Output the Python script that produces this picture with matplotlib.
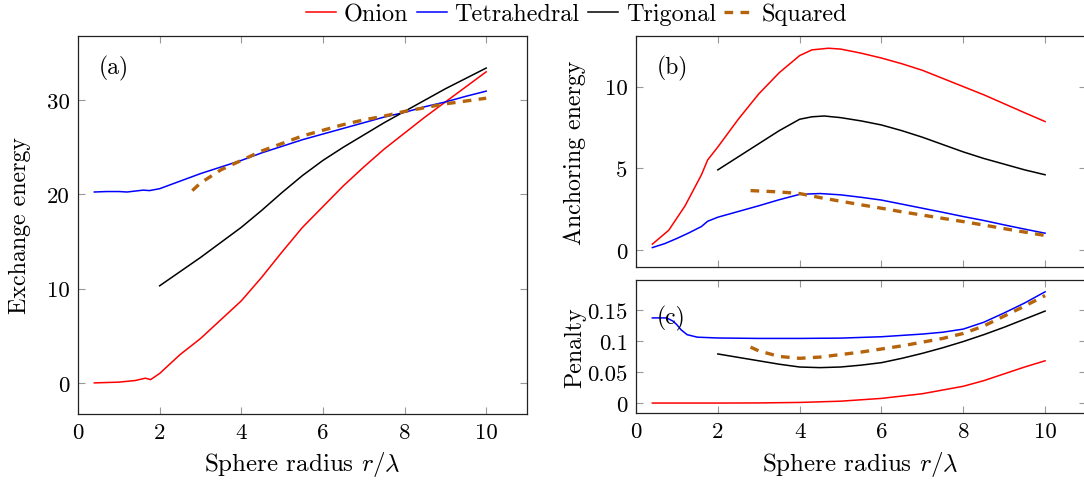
import matplotlib
matplotlib.use("Agg")
import matplotlib.pyplot as plt
from matplotlib.ticker import FuncFormatter

plt.rcParams['font.family'] = ['cmr10', 'DejaVu Serif']
plt.rcParams['mathtext.fontset'] = 'cm'
plt.rcParams['axes.formatter.use_mathtext'] = True
plt.rcParams['font.size'] = 16.5

# ---------------- Data ----------------
# Panel (a): Exchange energy
xa_onion = [0.4, 1.0, 1.4, 1.65, 1.78, 2.0, 2.5, 3.0, 3.5, 4.0, 4.5, 5.0, 5.5, 6.0, 6.5, 7.0, 7.5, 8.0, 8.5, 9.0, 9.5, 10.0]
ya_onion = [0.0, 0.08, 0.25, 0.5, 0.35, 1.0, 3.0, 4.7, 6.7, 8.7, 11.2, 13.9, 16.5, 18.7, 20.9, 22.9, 24.8, 26.5, 28.2, 29.8, 31.4, 33.0]
xa_tetra = [0.4, 0.7, 1.0, 1.2, 1.4, 1.6, 1.75, 2.0, 2.5, 3.0, 3.5, 4.0, 4.5, 5.0, 5.5, 6.0, 6.5, 7.0, 7.5, 8.0, 8.5, 9.0, 9.5, 10.0]
ya_tetra = [20.25, 20.3, 20.3, 20.25, 20.35, 20.45, 20.4, 20.6, 21.4, 22.2, 22.9, 23.6, 24.4, 25.1, 25.8, 26.4, 27.0, 27.6, 28.2, 28.7, 29.3, 29.8, 30.4, 30.95]
xa_trig = [2.0, 2.5, 3.0, 3.5, 4.0, 4.5, 5.0, 5.5, 6.0, 6.5, 7.0, 7.5, 8.0, 8.5, 9.0, 9.5, 10.0]
ya_trig = [10.3, 11.8, 13.3, 14.9, 16.5, 18.3, 20.2, 22.0, 23.6, 25.0, 26.3, 27.6, 28.8, 30.0, 31.2, 32.3, 33.4]
xa_square = [2.8, 3.0, 3.5, 4.0, 4.5, 5.0, 5.5, 6.0, 6.5, 7.0, 7.5, 8.0, 8.5, 9.0, 9.5, 10.0]
ya_square = [20.4, 21.2, 22.6, 23.6, 24.6, 25.4, 26.2, 26.8, 27.4, 27.9, 28.3, 28.8, 29.2, 29.6, 29.9, 30.2]

# Panel (b): Anchoring energy
xb_onion = [0.4, 0.8, 1.2, 1.6, 1.75, 2.0, 2.5, 3.0, 3.5, 4.0, 4.3, 4.7, 5.0, 5.5, 6.0, 6.5, 7.0, 7.5, 8.0, 8.5, 9.0, 9.5, 10.0]
yb_onion = [0.35, 1.2, 2.7, 4.6, 5.5, 6.3, 8.0, 9.55, 10.85, 11.9, 12.25, 12.35, 12.3, 12.05, 11.75, 11.4, 11.0, 10.5, 10.0, 9.5, 8.95, 8.4, 7.86]
xb_tetra = [0.4, 0.7, 1.0, 1.3, 1.6, 1.75, 2.0, 2.5, 3.0, 3.5, 4.0, 4.5, 5.0, 5.5, 6.0, 6.5, 7.0, 7.5, 8.0, 8.5, 9.0, 9.5, 10.0]
yb_tetra = [0.14, 0.38, 0.7, 1.05, 1.43, 1.75, 2.0, 2.35, 2.7, 3.07, 3.4, 3.45, 3.37, 3.22, 3.05, 2.8, 2.55, 2.3, 2.04, 1.8, 1.53, 1.27, 1.02]
xb_trig = [2.0, 2.5, 3.0, 3.5, 4.0, 4.3, 4.6, 5.0, 5.5, 6.0, 6.5, 7.0, 7.5, 8.0, 8.5, 9.0, 9.5, 10.0]
yb_trig = [4.9, 5.7, 6.5, 7.3, 8.0, 8.15, 8.2, 8.1, 7.9, 7.65, 7.3, 6.9, 6.45, 6.0, 5.6, 5.25, 4.9, 4.6]
xb_square = [2.8, 3.5, 4.0, 4.5, 5.0, 5.5, 6.0, 6.5, 7.0, 7.5, 8.0, 8.5, 9.0, 9.5, 10.0]
yb_square = [3.63, 3.55, 3.45, 3.2, 2.98, 2.76, 2.55, 2.33, 2.13, 1.93, 1.73, 1.52, 1.3, 1.09, 0.88]

# Panel (c): Penalty
xc_onion = [0.4, 2.0, 3.0, 4.0, 5.0, 6.0, 7.0, 8.0, 8.5, 9.0, 9.5, 10.0]
yc_onion = [0.0, 0.0, 0.0002, 0.001, 0.003, 0.0075, 0.015, 0.027, 0.036, 0.047, 0.058, 0.068]
xc_tetra = [0.4, 0.75, 0.9, 1.0, 1.1, 1.25, 1.5, 2.0, 3.0, 4.0, 5.0, 6.0, 7.0, 7.5, 8.0, 8.5, 9.0, 9.5, 10.0]
yc_tetra = [0.137, 0.137, 0.132, 0.126, 0.118, 0.110, 0.106, 0.1047, 0.104, 0.104, 0.1045, 0.1067, 0.111, 0.114, 0.119, 0.130, 0.145, 0.161, 0.179]
xc_trig = [2.0, 2.5, 3.0, 3.5, 4.0, 4.5, 5.0, 5.5, 6.0, 6.5, 7.0, 7.5, 8.0, 8.5, 9.0, 9.5, 10.0]
yc_trig = [0.079, 0.0735, 0.068, 0.0625, 0.058, 0.057, 0.058, 0.061, 0.065, 0.072, 0.080, 0.089, 0.099, 0.110, 0.122, 0.135, 0.148]
xc_square = [2.8, 3.0, 3.5, 4.0, 4.5, 5.0, 5.5, 6.0, 6.5, 7.0, 7.5, 8.0, 8.5, 9.0, 9.5, 10.0]
yc_square = [0.090, 0.084, 0.075, 0.072, 0.074, 0.078, 0.082, 0.087, 0.092, 0.098, 0.104, 0.112, 0.124, 0.140, 0.156, 0.173]

series_names = ['Onion', 'Tetrahedral', 'Trigonal', 'Squared']
xticks = [0, 2, 4, 6, 8, 10]
yticks_a = [0, 10, 20, 30]
yticks_b = [0, 5, 10]
yticks_c = [0, 0.05, 0.1, 0.15]

# ---------------- Style ----------------
RED = '#FF0000'
BLUE = '#0000FF'
BLACK = '#000000'
BROWN = '#B5640C'
LW = 1.1
styles = {
    'Onion': dict(color=RED, lw=LW),
    'Tetrahedral': dict(color=BLUE, lw=LW),
    'Trigonal': dict(color=BLACK, lw=LW),
    'Squared': dict(color=BROWN, lw=2.4, ls=(0, (2.6, 2.2))),
}

W, H = 1084, 489
fig = plt.figure(figsize=(W / 100, H / 100), dpi=100)

def px_axes(left, top, right, bottom):
    return fig.add_axes([left / W, 1 - bottom / H, (right - left) / W, (bottom - top) / H])

axa = px_axes(78, 37, 527, 415)
axb = px_axes(636, 37, 1086, 268)
axc = px_axes(636, 281, 1086, 414)

def style_axes(ax):
    ax.tick_params(direction='in', length=5, width=0.8, color='#999999',
                   top=True, right=True, pad=6)
    for s in ax.spines.values():
        s.set_linewidth(0.9)
        s.set_color('#222222')

fmt = FuncFormatter(lambda v, p: ('%g' % v))

data_a = [(xa_onion, ya_onion), (xa_tetra, ya_tetra), (xa_trig, ya_trig), (xa_square, ya_square)]
data_b = [(xb_onion, yb_onion), (xb_tetra, yb_tetra), (xb_trig, yb_trig), (xb_square, yb_square)]
data_c = [(xc_onion, yc_onion), (xc_tetra, yc_tetra), (xc_trig, yc_trig), (xc_square, yc_square)]

handles = []
for name, (x, y) in zip(series_names, data_a):
    h, = axa.plot(x, y, label=name, **styles[name])
    handles.append(h)
for name, (x, y) in zip(series_names, data_b):
    axb.plot(x, y, **styles[name])
for name, (x, y) in zip(series_names, data_c):
    axc.plot(x, y, **styles[name])

for ax in (axa, axb, axc):
    style_axes(ax)
    ax.set_xlim(0, 11)
    ax.set_xticks(xticks)
    ax.xaxis.set_major_formatter(fmt)
    ax.yaxis.set_major_formatter(fmt)

axa.set_ylim(-3.3, 36.8)
axa.set_yticks(yticks_a)
axb.set_ylim(-1.05, 13.1)
axb.set_yticks(yticks_b)
axb.tick_params(labelbottom=False)
axc.set_ylim(-0.016, 0.198)
axc.set_yticks(yticks_c)

YLABEL_FS = 17.2
XLABEL_FS = 18
axa.set_ylabel('Exchange energy', fontsize=YLABEL_FS, va='center')
axa.yaxis.set_label_coords(-58 / 449, 0.5)
axb.set_ylabel('Anchoring energy', fontsize=YLABEL_FS, va='center')
axb.yaxis.set_label_coords(-61 / 450, 0.5)
axc.set_ylabel('Penalty', fontsize=YLABEL_FS, va='center')
axc.yaxis.set_label_coords(-61 / 450, 0.5)

xlabel = r'Sphere radius $r/\lambda$'
axa.set_xlabel(xlabel, fontsize=XLABEL_FS, va='center')
axa.xaxis.set_label_coords(0.5, -50 / 378)
axc.set_xlabel(xlabel, fontsize=XLABEL_FS, va='center')
axc.xaxis.set_label_coords(0.5 * 449 / 450, -51 / 133)

axa.text(0.047, 0.918, '(a)', transform=axa.transAxes, va='center', ha='left', fontsize=17)
axb.text(0.047, 0.866, '(b)', transform=axb.transAxes, va='center', ha='left', fontsize=17)
axc.text(0.047, 0.72, '(c)', transform=axc.transAxes, va='center', ha='left', fontsize=17)

fig.legend(handles=handles, labels=series_names, loc='center',
           bbox_to_anchor=(0.532, 1 - 15 / H), ncol=4, frameon=False,
           fontsize=17.5, handlelength=1.25, handletextpad=0.3,
           columnspacing=0.35, borderaxespad=0.0, borderpad=0.0)

fig.savefig('out.png', dpi=100)
